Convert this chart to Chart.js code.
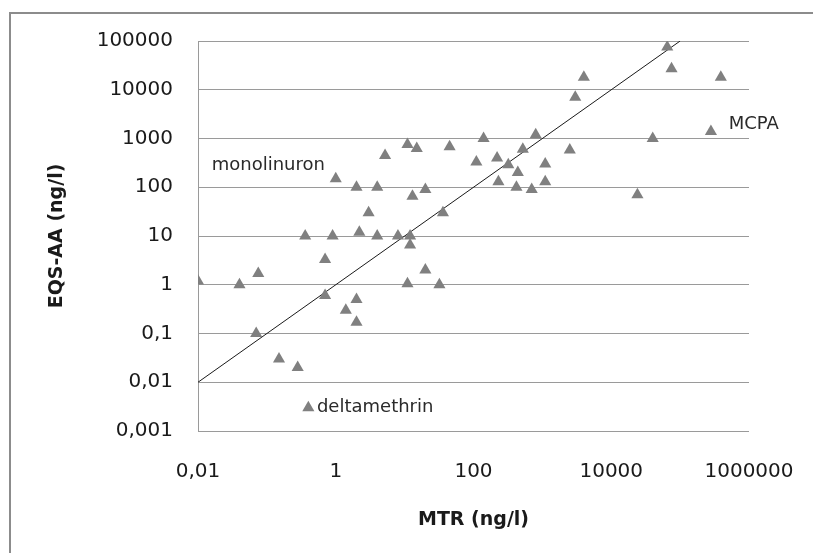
<!DOCTYPE html>
<html lang="en">
<head>
  <meta charset="UTF-8">
  <title>EQS-AA vs MTR</title>
  <script src="https://cdn.jsdelivr.net/npm/chart.js"></script>
  <style>
    html, body { margin: 0; padding: 0; background: #ffffff; }
    #wrap { width: 813px; height: 553px; }
  </style>
</head>
<body>
  <div id="wrap"><canvas id="chart" width="813" height="553"></canvas></div>

  <script>
    // MTR (x) and EQS-AA (y), ng/l
    const mtrValues = [
      0.01, 0.04, 0.075, 0.07, 0.15, 0.28, 0.4, 0.36, 0.7, 0.7,
      0.9, 1.0, 1.4, 2.0, 2.0, 2.0, 2.2, 3.0, 4.0, 4.0,
      5.2, 8, 11, 11, 12, 12, 13, 15, 20, 20,
      32, 36, 45, 110, 140, 220, 230, 320, 420, 440,
      520, 700, 800, 1100, 1100, 2500, 3000, 4000, 24000, 40000,
      65000, 75000, 280000, 390000
    ];
    const eqsValues = [
      1.2, 1.0, 1.7, 0.1, 0.03, 0.02, 0.003, 10, 3.3, 0.6,
      10, 150, 0.3, 0.5, 0.17, 100, 12, 30, 100, 10,
      450, 10, 750, 1.05, 10, 6.5, 65, 620, 90, 2,
      1.0, 30, 680, 330, 1000, 400, 130, 290, 100, 200,
      600, 90, 1200, 300, 130, 580, 7000, 18000, 70, 1000,
      75000, 27000, 1400, 18000
    ];

    // 1:1 reference line
    const refLineX = [0.01, 100000];
    const refLineY = [0.01, 100000];

    const xTickValues = [0.01, 1, 100, 10000, 1000000];
    const xTickLabels = ['0,01', '1', '100', '10000', '1000000'];
    const yTickValues = [0.001, 0.01, 0.1, 1, 10, 100, 1000, 10000, 100000];
    const yTickLabels = ['0,001', '0,01', '0,1', '1', '10', '100', '1000', '10000', '100000'];

    // named substances written next to their points
    const noteTexts = ['monolinuron', 'MCPA', 'deltamethrin'];
    const noteX = [0.0158, 507000, 0.533];
    const noteY = [284, 1960, 0.00312];

    const points = mtrValues.map((x, i) => ({ x: x, y: eqsValues[i] }));
    const refLine = refLineX.map((x, i) => ({ x: x, y: refLineY[i] }));

    const gridGray = '#9a9a9a';

    // outer frame (left and top edges) and the text notes
    const extrasPlugin = {
      id: 'extras',
      beforeDraw(chart) {
        const c = chart.ctx;
        c.save();
        c.strokeStyle = '#8c8c8c';
        c.lineWidth = 2;
        c.beginPath();
        c.moveTo(10, 553);
        c.lineTo(10, 13);
        c.lineTo(813, 13);
        c.stroke();
        c.restore();
      },
      afterDraw(chart) {
        const c = chart.ctx;
        const xs = chart.scales.x, ys = chart.scales.y;
        c.save();
        c.fillStyle = '#2a2a2a';
        c.font = '18px "DejaVu Sans"';
        c.textAlign = 'left';
        c.textBaseline = 'middle';
        noteTexts.forEach((t, i) => {
          c.fillText(t, xs.getPixelForValue(noteX[i]), ys.getPixelForValue(noteY[i]));
        });
        c.restore();
      }
    };

    new Chart(document.getElementById('chart'), {
      type: 'scatter',
      data: {
        datasets: [
          {
            label: 'EQS-AA',
            data: points,
            pointStyle: 'triangle',
            pointRadius: 7,
            backgroundColor: '#808080',
            borderWidth: 0,
            order: 1
          },
          {
            label: '1:1',
            type: 'line',
            data: refLine,
            showLine: true,
            pointRadius: 0,
            borderColor: '#1a1a1a',
            borderWidth: 1,
            fill: false,
            order: 2
          }
        ]
      },
      options: {
        responsive: false,
        animation: false,
        layout: { padding: { top: 41, right: 64, bottom: 0, left: 0 } },
        plugins: {
          legend: { display: false },
          tooltip: { enabled: false }
        },
        scales: {
          x: {
            type: 'logarithmic',
            min: 0.01,
            max: 1000000,
            afterBuildTicks: s => { s.ticks = xTickValues.map(v => ({ value: v })); },
            afterFit: s => { s.height = 122; s.paddingLeft = 0; s.paddingRight = 0; },
            grid: { display: false, drawTicks: false },
            border: { display: false },
            ticks: {
              autoSkip: false,
              maxRotation: 0,
              padding: 29,
              color: '#1a1a1a',
              font: { family: 'DejaVu Sans', size: 20 },
              callback: v => xTickLabels[xTickValues.indexOf(v)]
            },
            title: {
              display: true,
              text: 'MTR (ng/l)',
              color: '#1a1a1a',
              font: { family: 'DejaVu Sans', size: 19, weight: 'bold' },
              padding: { top: 0, bottom: 22 }
            }
          },
          y: {
            type: 'logarithmic',
            min: 0.001,
            max: 100000,
            afterBuildTicks: s => { s.ticks = yTickValues.map(v => ({ value: v })); },
            afterFit: s => { s.width = 198; },
            grid: { color: gridGray, lineWidth: 1, drawTicks: false },
            border: { display: true, color: gridGray, width: 1 },
            ticks: {
              autoSkip: false,
              padding: 25,
              color: '#1a1a1a',
              font: { family: 'DejaVu Sans', size: 20 },
              callback: v => yTickLabels[yTickValues.indexOf(v)]
            },
            title: {
              display: true,
              text: 'EQS-AA (ng/l)',
              color: '#1a1a1a',
              font: { family: 'DejaVu Sans', size: 19, weight: 'bold' },
              padding: { top: 46, bottom: 0 }
            }
          }
        }
      },
      plugins: [extrasPlugin]
    });
  </script>
</body>
</html>
